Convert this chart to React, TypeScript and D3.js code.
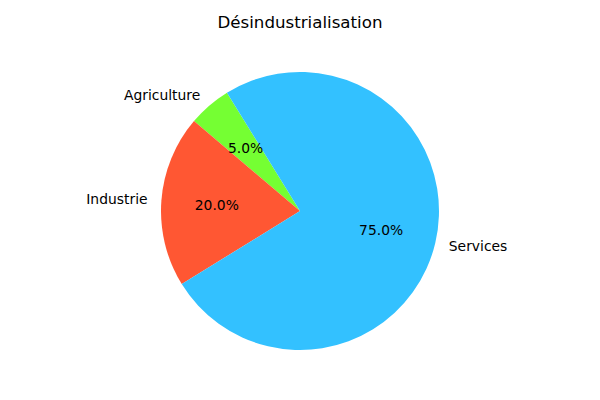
import React from "react";
import * as d3 from "d3";

const categories = ["Agriculture", "Industrie", "Services"];
const values = [5, 20, 75];
const colors = ["#75FF33", "#FF5733", "#33C1FF"];
const title = "Désindustrialisation";

const W = 600;
const H = 400;
const cx = 300;
const cy = 211;
const R = 139;
const startDeg = 121.7; // matplotlib-style angle (ccw from 3 o'clock)

export default function App() {
  const a0 = ((90 - startDeg) * Math.PI) / 180;
  const pie = d3
    .pie<number>()
    .sort(null)
    .value((d) => d)
    .startAngle(a0)
    .endAngle(a0 - 2 * Math.PI);
  const arcs = pie(values);
  const arc = d3.arc<d3.PieArcDatum<number>>().innerRadius(0).outerRadius(R);
  const total = d3.sum(values);
  const font = "DejaVu Sans, sans-serif";

  return (
    <svg
      width={W}
      height={H}
      style={{ position: "absolute", left: 0, top: 0, background: "#fff" }}
    >
      <text
        x={W / 2}
        y={22}
        dy="0.35em"
        textAnchor="middle"
        fontFamily={font}
        fontSize={16.67}
        fill="#000"
      >
        {title}
      </text>
      <g transform={`translate(${cx},${cy})`}>
        {arcs.map((a, i) => (
          <path key={i} d={arc(a) || ""} fill={colors[i]} />
        ))}
        {arcs.map((a, i) => {
          const mid = (a.startAngle + a.endAngle) / 2;
          const lx = 1.1 * R * Math.sin(mid);
          const ly = -1.1 * R * Math.cos(mid);
          const px = 0.6 * R * Math.sin(mid);
          const py = -0.6 * R * Math.cos(mid);
          return (
            <g key={"t" + i}>
              <text
                x={lx}
                y={ly}
                dy="0.35em"
                textAnchor={lx < 0 ? "end" : "start"}
                fontFamily={font}
                fontSize={13.89}
                fill="#000"
              >
                {categories[i]}
              </text>
              <text
                x={px}
                y={py}
                dy="0.35em"
                textAnchor="middle"
                fontFamily={font}
                fontSize={13.89}
                fill="#000"
              >
                {((values[i] / total) * 100).toFixed(1) + "%"}
              </text>
            </g>
          );
        })}
      </g>
    </svg>
  );
}
